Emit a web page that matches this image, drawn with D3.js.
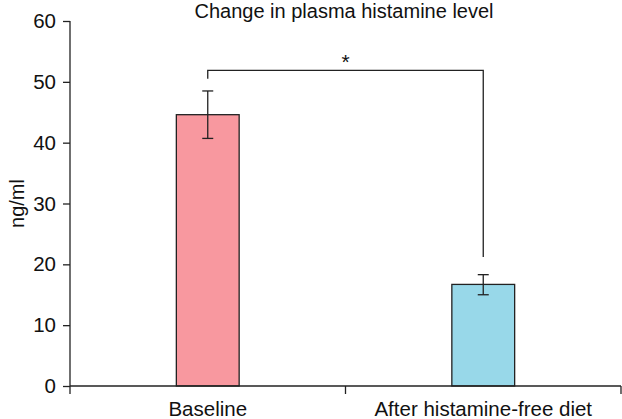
<!DOCTYPE html>
<html>
<head>
<meta charset="utf-8">
<script src="https://cdn.jsdelivr.net/npm/d3@7"></script>
<style>
  body { margin: 0; background: #fff; }
  text { font-family: "Liberation Sans", Arial, sans-serif; fill: #111; }
</style>
</head>
<body>
<div id="chart"></div>
<script>
const categories = ['Baseline', 'After histamine-free diet'];
const means = [44.6, 16.7];
const errLow = [40.7, 15.0];
const errHigh = [48.5, 18.3];
const barColors = ['#f8989f', '#98d8e9'];
const yTicks = [0, 10, 20, 30, 40, 50, 60];
// significance bracket: level of top line, and where each leg stops
const bracketTop = 51.9;
const bracketEnds = [50.5, 21.2];

const width = 622;
const height = 419;
const margin = { top: 21, right: 1, bottom: 33, left: 70 };
const innerW = width - margin.left - margin.right;
const innerH = height - margin.top - margin.bottom;

const svg = d3.select('#chart').append('svg')
  .attr('width', width)
  .attr('height', height);

svg.append('text')
  .attr('x', 344)
  .attr('y', 18)
  .attr('text-anchor', 'middle')
  .style('font-size', '20px')
  .text('Change in plasma histamine level');

const g = svg.append('g')
  .attr('transform', `translate(${margin.left},${margin.top})`);

const x = d3.scaleBand()
  .domain(categories)
  .range([0, innerW])
  .padding(0);

const y = d3.scaleLinear()
  .domain([0, 60])
  .range([innerH, 0]);

const barW = x.bandwidth() * 0.228;
const cx = d => x(d) + x.bandwidth() / 2;

// bars
g.selectAll('.bar')
  .data(categories)
  .enter()
  .append('rect')
  .attr('class', 'bar')
  .attr('x', d => cx(d) - barW / 2)
  .attr('y', (d, i) => y(means[i]))
  .attr('width', barW)
  .attr('height', (d, i) => y(0) - y(means[i]))
  .style('fill', (d, i) => barColors[i])
  .style('stroke', '#222')
  .style('stroke-width', 1.3);

// error bars
const capW = 11;
const err = g.selectAll('.err')
  .data(categories)
  .enter()
  .append('g')
  .attr('class', 'err')
  .style('stroke', '#222')
  .style('stroke-width', 1.3);

err.append('line')
  .attr('x1', d => cx(d)).attr('x2', d => cx(d))
  .attr('y1', (d, i) => y(errLow[i])).attr('y2', (d, i) => y(errHigh[i]));
err.append('line')
  .attr('x1', d => cx(d) - capW / 2).attr('x2', d => cx(d) + capW / 2)
  .attr('y1', (d, i) => y(errLow[i])).attr('y2', (d, i) => y(errLow[i]));
err.append('line')
  .attr('x1', d => cx(d) - capW / 2).attr('x2', d => cx(d) + capW / 2)
  .attr('y1', (d, i) => y(errHigh[i])).attr('y2', (d, i) => y(errHigh[i]));

// significance bracket
const bx0 = cx(categories[0]);
const bx1 = cx(categories[1]);
g.append('path')
  .attr('d', `M${bx0},${y(bracketEnds[0])}V${y(bracketTop)}H${bx1}V${y(bracketEnds[1])}`)
  .style('fill', 'none')
  .style('stroke', '#222')
  .style('stroke-width', 1.3);

g.append('text')
  .attr('x', (bx0 + bx1) / 2)
  .attr('y', y(bracketTop) - 1)
  .attr('text-anchor', 'middle')
  .style('font-size', '21px')
  .text('*');

// y axis
const yAxis = g.append('g')
  .call(d3.axisLeft(y).tickValues(yTicks).tickSize(7).tickPadding(7).tickSizeOuter(0));
yAxis.select('.domain').attr('d', `M0,0V${innerH + 8}`);
yAxis.selectAll('line, path').style('stroke', '#222').style('stroke-width', 1.3);
yAxis.selectAll('text').style('font-size', '20.5px').style('fill', '#111');

// x axis: ticks at category boundaries
const xAxis = g.append('g')
  .attr('transform', `translate(0,${innerH})`);
xAxis.append('line')
  .attr('x1', 0).attr('x2', innerW)
  .style('stroke', '#222').style('stroke-width', 1.3);
xAxis.selectAll('.tick')
  .data(categories)
  .enter()
  .append('line')
  .attr('class', 'tick')
  .attr('x1', d => x(d) + x.bandwidth()).attr('x2', d => x(d) + x.bandwidth())
  .attr('y1', 0).attr('y2', 8)
  .style('stroke', '#222').style('stroke-width', 1.3);
xAxis.selectAll('.lab')
  .data(categories)
  .enter()
  .append('text')
  .attr('class', 'lab')
  .attr('x', d => cx(d))
  .attr('y', 29.5)
  .attr('text-anchor', 'middle')
  .style('font-size', '20.5px')
  .text(d => d);

// y label
svg.append('text')
  .attr('transform', `translate(24,${margin.top + innerH / 2}) rotate(-90)`)
  .attr('text-anchor', 'middle')
  .style('font-size', '20px')
  .text('ng/ml');
</script>
</body>
</html>
